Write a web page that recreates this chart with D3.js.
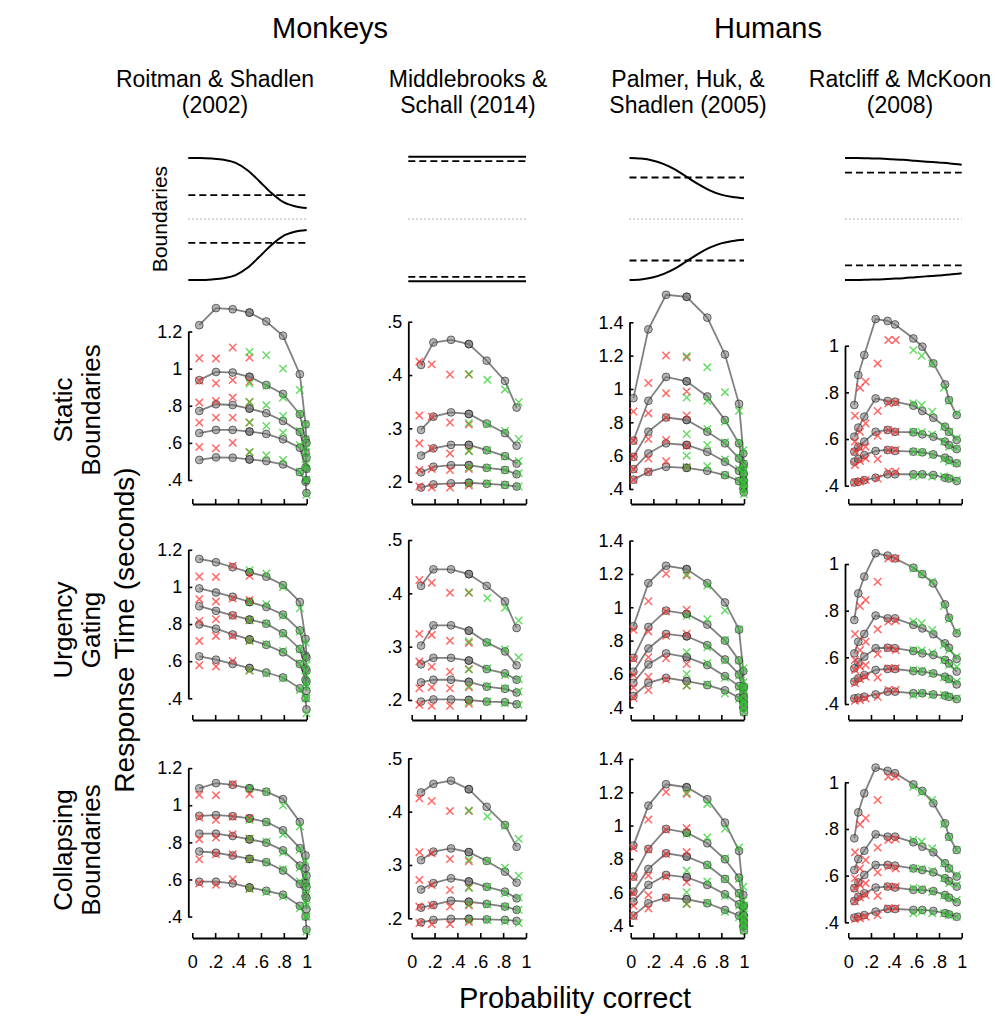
<!DOCTYPE html>
<html>
<head>
<meta charset="utf-8">
<script src="https://cdnjs.cloudflare.com/ajax/libs/d3/7.8.5/d3.min.js"></script>
<style>
body { margin: 0; background: #fff; }
svg { display: block; font-family: "Liberation Sans", Arial, Helvetica, sans-serif; }
</style>
</head>
<body>
<svg id="chart" width="995" height="1016"></svg>
<script>
// ---- labels ----
var groupNames = ["Monkeys", "Humans"];
var studyNames = [["Roitman & Shadlen", "(2002)"], ["Middlebrooks &", "Schall (2014)"],
                  ["Palmer, Huk, &", "Shadlen (2005)"], ["Ratcliff & McKoon", "(2008)"]];
var rowNames = [["Static", "Boundaries"], ["Urgency", "Gating"], ["Collapsing", "Boundaries"]];
var xTicks = [0, 0.2, 0.4, 0.6, 0.8, 1];
var yTicks = [[0.4, 0.6, 0.8, 1, 1.2], [0.2, 0.3, 0.4, 0.5], [0.4, 0.6, 0.8, 1, 1.2, 1.4], [0.4, 0.6, 0.8, 1]];

// ---- boundary sketches (upper bound, lower is mirrored) ----
var boundTime = [0, 0.1, 0.2, 0.3, 0.4, 0.5, 0.6, 0.7, 0.8, 0.9, 1];
var roitmanBound = [1.0, 1.0, 0.99, 0.97, 0.92, 0.80, 0.62, 0.43, 0.28, 0.21, 0.18];
var middlebrooksBound = [1.02, 1.02, 1.02, 1.02, 1.02, 1.02, 1.02, 1.02, 1.02, 1.02, 1.02];
var palmerBound = [1.0, 0.99, 0.96, 0.90, 0.81, 0.69, 0.57, 0.47, 0.40, 0.36, 0.34];
var ratcliffBound = [1.0, 1.0, 0.995, 0.99, 0.98, 0.97, 0.955, 0.94, 0.925, 0.91, 0.89];
var staticBounds = [0.39, 0.95, 0.68, 0.76];

// ---- Roitman & Shadlen (2002) ----
var roitmanX = [0.061, 0.207, 0.353, 0.5, 0.5, 0.647, 0.793, 0.94, 0.99, 0.998];
var roitmanType = ["e", "e", "e", "e", "c", "c", "c", "c", "c", "c"];
var roitmanData = [
    [0.578, 0.709, 0.817, 0.934, 1.056], [0.571, 0.736, 0.826, 0.921, 1.054],
    [0.601, 0.736, 0.844, 0.938, 1.114], [0.55, 0.71, 0.82, 0.93, 1.06],
    [0.55, 0.71, 0.82, 0.92, 1.09], [0.533, 0.691, 0.803, 0.907, 1.072],
    [0.508, 0.655, 0.745, 0.844, 1.0], [0.445, 0.589, 0.664, 0.760, 0.885],
    [0.40, 0.48, 0.55, 0.62, 0.70], [0.32, 0.40, 0.46, 0.52, 0.58]];
var roitmanStatic = [
    [0.508, 0.653, 0.772, 0.938, 1.234], [0.522, 0.670, 0.808, 0.982, 1.326],
    [0.520, 0.670, 0.804, 0.979, 1.320], [0.511, 0.661, 0.785, 0.956, 1.302],
    [0.511, 0.661, 0.785, 0.956, 1.302], [0.502, 0.648, 0.760, 0.912, 1.254],
    [0.484, 0.619, 0.718, 0.864, 1.177], [0.443, 0.574, 0.659, 0.754, 0.970],
    [0.391, 0.467, 0.547, 0.619, 0.700], [0.33, 0.40, 0.46, 0.52, 0.60]];
var roitmanUrgency = [
    [0.626, 0.798, 0.896, 0.992, 1.151], [0.608, 0.775, 0.871, 0.970, 1.133],
    [0.585, 0.744, 0.847, 0.947, 1.106], [0.563, 0.717, 0.824, 0.919, 1.079],
    [0.563, 0.717, 0.824, 0.919, 1.079], [0.539, 0.688, 0.802, 0.892, 1.055],
    [0.512, 0.648, 0.751, 0.851, 1.010], [0.454, 0.585, 0.666, 0.766, 0.919],
    [0.40, 0.50, 0.56, 0.63, 0.72], [0.34, 0.44, 0.49, 0.55, 0.62]];
var roitmanCollapse = [
    [0.588, 0.751, 0.847, 0.943, 1.091], [0.588, 0.744, 0.847, 0.947, 1.119],
    [0.579, 0.729, 0.834, 0.941, 1.110], [0.557, 0.711, 0.816, 0.929, 1.091],
    [0.557, 0.711, 0.816, 0.929, 1.091], [0.539, 0.693, 0.798, 0.910, 1.073],
    [0.518, 0.648, 0.757, 0.865, 1.033], [0.458, 0.576, 0.675, 0.769, 0.910],
    [0.40, 0.51, 0.58, 0.66, 0.73], [0.33, 0.44, 0.50, 0.56, 0.62]];

// ---- Middlebrooks & Schall (2014) ----
var middlebrooksX = [0.082, 0.190, 0.344, 0.5, 0.5, 0.656, 0.816, 0.918];
var middlebrooksDataX = [0.067, 0.175, 0.335, 0.5, 0.5, 0.662, 0.816, 0.936];
var middlebrooksType = ["e", "e", "e", "e", "c", "c", "c", "c"];
var middlebrooksData = [
    [0.191, 0.222, 0.272, 0.324, 0.425], [0.189, 0.224, 0.2625, 0.322, 0.420],
    [0.189, 0.222, 0.253, 0.311, 0.401], [0.193, 0.224, 0.258, 0.307, 0.401],
    [0.196, 0.226, 0.257, 0.310, 0.402], [0.197, 0.226, 0.259, 0.3075, 0.391],
    [0.194, 0.222, 0.247, 0.295, 0.373], [0.191, 0.216, 0.239, 0.280, 0.349]];
var middlebrooksStatic = [
    [0.189, 0.2175, 0.249, 0.297, 0.419], [0.195, 0.228, 0.2625, 0.322, 0.461],
    [0.197, 0.231, 0.269, 0.330, 0.466], [0.198, 0.231, 0.269, 0.327, 0.458],
    [0.198, 0.231, 0.269, 0.327, 0.458], [0.196, 0.226, 0.259, 0.309, 0.427],
    [0.194, 0.222, 0.248, 0.291, 0.389], [0.191, 0.214, 0.234, 0.2675, 0.339]];
var middlebrooksUrgency = [
    [0.197, 0.233, 0.267, 0.302, 0.414], [0.201, 0.238, 0.279, 0.340, 0.445],
    [0.201, 0.238, 0.279, 0.340, 0.445], [0.200, 0.234, 0.274, 0.330, 0.436],
    [0.200, 0.234, 0.274, 0.330, 0.436], [0.197, 0.225, 0.258, 0.308, 0.414],
    [0.196, 0.221, 0.250, 0.291, 0.385], [0.192, 0.214, 0.238, 0.265, 0.335]];
var middlebrooksCollapse = [
    [0.1925, 0.220, 0.254, 0.309, 0.436], [0.197, 0.225, 0.266, 0.325, 0.452],
    [0.199, 0.233, 0.275, 0.331, 0.458], [0.199, 0.231, 0.269, 0.324, 0.442],
    [0.199, 0.231, 0.269, 0.324, 0.442], [0.198, 0.227, 0.259, 0.3075, 0.409],
    [0.197, 0.222, 0.250, 0.2875, 0.375], [0.195, 0.216, 0.2375, 0.267, 0.334]];

// ---- Palmer, Huk & Shadlen (2005) ----
var palmerX = [0.024, 0.156, 0.312, 0.494, 0.494, 0.676, 0.832, 0.956, 0.994, 0.999];
var palmerType = ["e", "e", "e", "e", "c", "c", "c", "c", "c", "c"];
var palmerData = [
    [0.456, 0.519, 0.593, 0.690, 0.865], [0.503, 0.583, 0.700, 0.855, 1.036],
    [0.567, 0.694, 0.829, 0.975, 1.201], [0.53, 0.66, 0.841, 0.985, 1.19],
    [0.53, 0.60, 0.73, 0.949, 1.197], [0.537, 0.664, 0.760, 0.929, 1.130],
    [0.483, 0.577, 0.680, 0.804, 0.981], [0.45, 0.52, 0.59, 0.68, 0.869],
    [0.40, 0.44, 0.50, 0.55, 0.633], [0.37, 0.40, 0.43, 0.47, 0.52]];
var palmerStatic = [
    [0.456, 0.519, 0.593, 0.690, 0.945], [0.503, 0.613, 0.744, 0.929, 1.358],
    [0.533, 0.674, 0.829, 1.072, 1.565], [0.527, 0.664, 0.814, 1.046, 1.553],
    [0.527, 0.664, 0.814, 1.046, 1.553], [0.509, 0.623, 0.744, 0.955, 1.428],
    [0.483, 0.563, 0.674, 0.814, 1.207], [0.448, 0.509, 0.583, 0.674, 0.911],
    [0.402, 0.452, 0.493, 0.533, 0.613], [0.38, 0.42, 0.45, 0.49, 0.55]];
var palmerUrgency = [
    [0.468, 0.547, 0.613, 0.697, 0.886], [0.547, 0.657, 0.753, 0.882, 1.145],
    [0.577, 0.723, 0.840, 0.980, 1.249], [0.557, 0.701, 0.826, 0.960, 1.229],
    [0.557, 0.701, 0.826, 0.960, 1.229], [0.533, 0.653, 0.773, 0.896, 1.145],
    [0.502, 0.587, 0.687, 0.800, 1.029], [0.458, 0.527, 0.597, 0.681, 0.866],
    [0.398, 0.428, 0.478, 0.527, 0.617], [0.37, 0.40, 0.43, 0.46, 0.52]];
var palmerCollapse = [
    [0.46, 0.544, 0.604, 0.694, 0.88], [0.534, 0.644, 0.74, 0.86, 1.12],
    [0.568, 0.704, 0.834, 0.98, 1.248], [0.558, 0.69, 0.814, 0.958, 1.23],
    [0.558, 0.69, 0.814, 0.958, 1.23], [0.534, 0.644, 0.764, 0.894, 1.158],
    [0.494, 0.588, 0.68, 0.798, 1.018], [0.46, 0.528, 0.594, 0.688, 0.848],
    [0.394, 0.424, 0.464, 0.514, 0.584], [0.37, 0.40, 0.43, 0.46, 0.52]];

// ---- Ratcliff & McKoon (2008) ----
var ratcliffX = [0.053, 0.088, 0.141, 0.241, 0.347, 0.412, 0.574, 0.653, 0.750, 0.853, 0.888, 0.956];
var ratcliffDataX = [0.059, 0.103, 0.153, 0.259, 0.353, 0.418, 0.574, 0.647, 0.740, 0.843, 0.888, 0.956];
var ratcliffType = ["e", "e", "e", "e", "e", "e", "c", "c", "c", "c", "c", "c"];
var ratcliffData = [
    [0.414, 0.489, 0.546, 0.589, 0.70], [0.417, 0.506, 0.56, 0.631, 0.82],
    [0.424, 0.517, 0.567, 0.667, 0.846], [0.431, 0.514, 0.614, 0.72, 0.924],
    [0.46, 0.553, 0.639, 0.753, 1.024], [0.46, 0.553, 0.631, 0.757, 1.024],
    [0.439, 0.546, 0.631, 0.753, 0.981], [0.446, 0.543, 0.629, 0.746, 0.957],
    [0.439, 0.531, 0.62, 0.717, 0.924], [0.439, 0.514, 0.589, 0.653, 0.82],
    [0.431, 0.503, 0.567, 0.631, 0.763], [0.424, 0.496, 0.56, 0.603, 0.71]];
var ratcliffStatic = [
    [0.414, 0.503, 0.546, 0.61, 0.746], [0.417, 0.514, 0.567, 0.649, 0.874],
    [0.424, 0.531, 0.589, 0.696, 0.96], [0.434, 0.549, 0.631, 0.774, 1.114],
    [0.449, 0.553, 0.639, 0.763, 1.106], [0.449, 0.549, 0.631, 0.76, 1.091],
    [0.449, 0.546, 0.629, 0.743, 1.031], [0.449, 0.543, 0.62, 0.72, 0.996],
    [0.446, 0.534, 0.61, 0.691, 0.924], [0.434, 0.52, 0.589, 0.653, 0.834],
    [0.431, 0.51, 0.574, 0.631, 0.767], [0.42, 0.496, 0.557, 0.596, 0.703]];
var ratcliffUrgency = [
    [0.424, 0.496, 0.553, 0.617, 0.76], [0.427, 0.51, 0.579, 0.667, 0.874],
    [0.431, 0.524, 0.603, 0.70, 0.946], [0.441, 0.546, 0.639, 0.779, 1.046],
    [0.453, 0.55, 0.641, 0.767, 1.036], [0.453, 0.55, 0.639, 0.767, 1.024],
    [0.446, 0.541, 0.627, 0.739, 0.984], [0.446, 0.539, 0.617, 0.724, 0.956],
    [0.441, 0.531, 0.61, 0.699, 0.917], [0.436, 0.517, 0.589, 0.66, 0.827],
    [0.431, 0.507, 0.574, 0.641, 0.77], [0.421, 0.484, 0.539, 0.593, 0.703]];
var ratcliffCollapse = [
    [0.42, 0.491, 0.546, 0.624, 0.76], [0.424, 0.51, 0.571, 0.671, 0.871],
    [0.431, 0.524, 0.603, 0.707, 0.953], [0.446, 0.549, 0.646, 0.777, 1.063],
    [0.457, 0.553, 0.646, 0.767, 1.049], [0.457, 0.549, 0.643, 0.767, 1.039],
    [0.453, 0.539, 0.631, 0.743, 0.991], [0.453, 0.539, 0.624, 0.724, 0.963],
    [0.449, 0.534, 0.614, 0.70, 0.91], [0.439, 0.517, 0.589, 0.653, 0.824],
    [0.434, 0.506, 0.577, 0.631, 0.767], [0.424, 0.486, 0.553, 0.596, 0.71]];

var studies = [
    { x: roitmanX, dataX: roitmanX, type: roitmanType, data: roitmanData,
      models: [roitmanStatic, roitmanUrgency, roitmanCollapse], bound: roitmanBound },
    { x: middlebrooksX, dataX: middlebrooksDataX, type: middlebrooksType, data: middlebrooksData,
      models: [middlebrooksStatic, middlebrooksUrgency, middlebrooksCollapse], bound: middlebrooksBound },
    { x: palmerX, dataX: palmerX, type: palmerType, data: palmerData,
      models: [palmerStatic, palmerUrgency, palmerCollapse], bound: palmerBound },
    { x: ratcliffX, dataX: ratcliffDataX, type: ratcliffType, data: ratcliffData,
      models: [ratcliffStatic, ratcliffUrgency, ratcliffCollapse], bound: ratcliffBound }
];

// ---- layout ----
var colX0 = [192.3, 411.7, 630.7, 848.3];
var colX1 = [306.7, 526, 744, 961.7];
var yAxisX = [188.3, 408.3, 629.5, 845];
var titleX = [215, 468, 688, 900];
var rowAxisY = [504, 720, 938];
var rowShift = [0, 218.3, 436.6];
var tickTop = [331.5, 321.7, 322.3, 345.7];
var tickBot = [480, 481.7, 489, 485.7];
var boundTopY = 158, boundBotY = 280;

var tickFont = 18;
var red = "rgb(255,40,40)";
var green = "rgb(40,205,40)";

var svg = d3.select("#chart");

function fmtTick(v)
{
    return d3.format("~g")(v).replace(/^0\./, ".");
}

function styleAxis(g)
{
    g.attr("font-size", tickFont)
        .attr("font-family", "Liberation Sans, Arial, sans-serif");
    g.select(".domain").attr("stroke", "#000").attr("stroke-width", 1.8);
    g.selectAll(".tick line").attr("stroke", "#000").attr("stroke-width", 1.6);
    g.selectAll(".tick text").attr("fill", "#000");
}

function drawBoundary(ci)
{
    var x = d3.scaleLinear().domain([0, 1]).range([yAxisX[ci], colX1[ci]]);
    var y = d3.scaleLinear().domain([-1, 1]).range([boundBotY, boundTopY]);
    var b = studies[ci].bound;
    var g = svg.append("g");

    g.append("line")
        .attr("x1", x(0)).attr("x2", x(1))
        .attr("y1", y(0)).attr("y2", y(0))
        .attr("stroke", "#bbb").attr("stroke-width", 1.3)
        .attr("stroke-dasharray", "1.5,2.5");

    [1, -1].forEach(function(sign)
    {
        g.append("line")
            .attr("x1", x(0)).attr("x2", x(1))
            .attr("y1", y(sign * staticBounds[ci])).attr("y2", y(sign * staticBounds[ci]))
            .attr("stroke", "#000").attr("stroke-width", 1.8)
            .attr("stroke-dasharray", "7,4");

        var line = d3.line()
            .x(function(d, i) { return x(boundTime[i]); })
            .y(function(d) { return y(sign * d); })
            .curve(d3.curveMonotoneX);

        g.append("path")
            .datum(b)
            .attr("d", line)
            .attr("fill", "none")
            .attr("stroke", "#000")
            .attr("stroke-width", 2);
    });
}

function drawPanel(ri, ci)
{
    var study = studies[ci];
    var model = study.models[ri];
    var ticks = yTicks[ci];

    var x = d3.scaleLinear().domain([0, 1]).range([colX0[ci], colX1[ci]]);
    var y = d3.scaleLinear()
        .domain([d3.min(ticks), d3.max(ticks)])
        .range([tickBot[ci] + rowShift[ri], tickTop[ci] + rowShift[ri]]);

    // y axis, ticks pointing inward
    svg.append("g")
        .attr("transform", "translate(" + yAxisX[ci] + ",0)")
        .call(d3.axisLeft(y).tickValues(ticks).tickSizeInner(-4).tickSizeOuter(0)
            .tickPadding(6).tickFormat(fmtTick))
        .call(styleAxis);

    // x axis
    svg.append("g")
        .attr("transform", "translate(0," + rowAxisY[ri] + ")")
        .call(d3.axisBottom(x).tickValues(xTicks).tickSizeInner(-5).tickSizeOuter(0)
            .tickPadding(17).tickFormat(ri == 2 ? fmtTick : function() { return ""; }))
        .call(styleAxis);

    var g = svg.append("g");

    // model quantile lines
    for (var q = 0; q < 5; q++)
    {
        var line = d3.line()
            .x(function(d, i) { return x(study.x[i]); })
            .y((function(qq) { return function(d) { return y(d[qq]); }; })(q));

        g.append("path")
            .datum(model)
            .attr("d", line)
            .attr("fill", "none")
            .attr("stroke", "#808080")
            .attr("stroke-width", 1.8);
    }

    // model points
    model.forEach(function(cond, i)
    {
        cond.forEach(function(v)
        {
            g.append("circle")
                .attr("cx", x(study.x[i]))
                .attr("cy", y(v))
                .attr("r", 3.9)
                .attr("fill", "rgba(120,120,120,0.55)")
                .attr("stroke", "rgba(30,30,30,0.6)")
                .attr("stroke-width", 1);
        });
    });

    // data crosses
    var s = 3.7;
    study.data.forEach(function(cond, i)
    {
        cond.forEach(function(v)
        {
            var cx = x(study.dataX[i]), cy = y(v);
            g.append("path")
                .attr("d", "M" + (cx - s) + "," + (cy - s) + "L" + (cx + s) + "," + (cy + s) +
                           "M" + (cx - s) + "," + (cy + s) + "L" + (cx + s) + "," + (cy - s))
                .attr("stroke", study.type[i] == "e" ? red : green)
                .attr("stroke-opacity", 0.7)
                .attr("stroke-width", 1.5);
        });
    });
}

// ---- titles ----
var groupCenters = [330, 768];
groupNames.forEach(function(name, i)
{
    svg.append("text")
        .attr("x", groupCenters[i]).attr("y", 38)
        .attr("text-anchor", "middle")
        .attr("font-size", 29)
        .text(name);
});

studyNames.forEach(function(lines, ci)
{
    lines.forEach(function(t, li)
    {
        svg.append("text")
            .attr("x", titleX[ci]).attr("y", 87 + li * 26)
            .attr("text-anchor", "middle")
            .attr("font-size", 23)
            .text(t);
    });
});

var rowCenters = [410, 630, 850];
rowNames.forEach(function(lines, ri)
{
    lines.forEach(function(t, li)
    {
        svg.append("text")
            .attr("transform", "translate(" + (72 + li * 28) + "," + rowCenters[ri] + ") rotate(-90)")
            .attr("text-anchor", "middle")
            .attr("font-size", 26)
            .text(t);
    });
});

svg.append("text")
    .attr("transform", "translate(134,630) rotate(-90)")
    .attr("text-anchor", "middle")
    .attr("font-size", 28)
    .text("Response Time (seconds)");

svg.append("text")
    .attr("transform", "translate(167,219) rotate(-90)")
    .attr("text-anchor", "middle")
    .attr("font-size", 21)
    .text("Boundaries");

svg.append("text")
    .attr("x", 575).attr("y", 1008)
    .attr("text-anchor", "middle")
    .attr("font-size", 29)
    .text("Probability correct");

for (var ci = 0; ci < 4; ci++)
{
    drawBoundary(ci);
    for (var ri = 0; ri < 3; ri++)
    {
        drawPanel(ri, ci);
    }
}
</script>
</body>
</html>
